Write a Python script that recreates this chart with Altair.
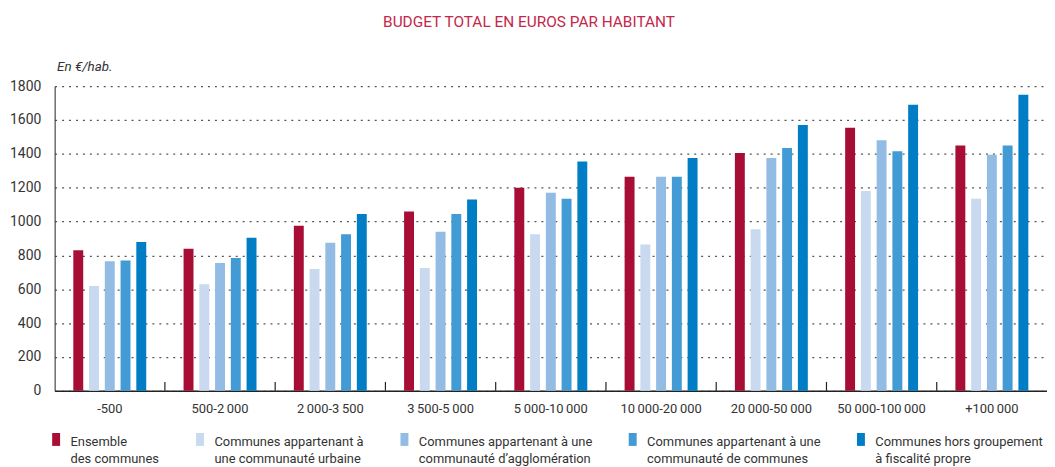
import altair as alt
import pandas as pd

T = "\u2009"
groups = ["-500", f"500-2{T}000", f"2{T}000-3{T}500", f"3{T}500-5{T}000", f"5{T}000-10{T}000",
          f"10{T}000-20{T}000", f"20{T}000-50{T}000", f"50{T}000-100{T}000", f"+100{T}000"]
series = ["Ensemble|des communes",
          "Communes appartenant à|une communauté urbaine",
          "Communes appartenant à une|communauté d’agglomération",
          "Communes appartenant à une|communauté de communes",
          "Communes hors groupement|à fiscalité propre"]
ensemble = [830, 840, 975, 1060, 1200, 1265, 1405, 1555, 1450]
urbaine = [620, 630, 720, 725, 925, 865, 955, 1180, 1135]
agglo = [765, 755, 875, 940, 1170, 1265, 1375, 1480, 1395]
cc = [770, 785, 925, 1045, 1135, 1265, 1435, 1415, 1450]
hors = [880, 905, 1045, 1130, 1355, 1375, 1570, 1690, 1750]
colors = ["#A80D36", "#C9DAF0", "#93BCE5", "#439BD5", "#007DC4"]

rows = []
for s, vals in zip(series, [ensemble, urbaine, agglo, cc, hors]):
    for g, v in zip(groups, vals):
        rows.append({"group": g, "series": s, "value": v})
df = pd.DataFrame(rows)
gdf = pd.DataFrame({"group": groups[1:]})

FONT = "Roboto, sans-serif"

x_scale = alt.Scale(domain=groups, paddingInner=0, paddingOuter=0)

bars = alt.Chart(df).mark_bar(width=10).encode(
    x=alt.X("group:N", scale=x_scale, sort=groups,
            axis=alt.Axis(title=None, labelAngle=0, ticks=False, labelPadding=12,
                          labelFontSize=13, labelColor="#333333", labelFont=FONT,
                          domainColor="#222222", domainWidth=1.5)),
    xOffset=alt.XOffset("series:N", sort=series,
                        scale=alt.Scale(domain=series, paddingInner=0, paddingOuter=1)),
    y=alt.Y("value:Q",
            scale=alt.Scale(domain=[0, 1800], nice=False),
            axis=alt.Axis(values=list(range(0, 1801, 200)), format="d", title="En €/hab.",
                          titleAngle=0, titleAlign="left", titleBaseline="alphabetic",
                          titleX=2, titleY=-16, titleFont=FONT, titleFontSize=13.5,
                          titleFontStyle="italic", titleFontWeight="normal", titleColor="#333333",
                          labelFontSize=14, labelColor="#333333", labelFont=FONT,
                          labelPadding=14, ticks=False, domainColor="#222222", domainWidth=1,
                          grid=True, gridColor="#555555", gridDash=[2, 5], gridWidth=1.2)),
    color=alt.Color("series:N", sort=series,
                    scale=alt.Scale(domain=series, range=colors),
                    legend=alt.Legend(title=None, orient="none", legendX=-5, legendY=346,
                                      direction="horizontal", columns=5, columnPadding=34,
                                      labelExpr="split(datum.label, '|')",
                                      labelFont=FONT, labelFontSize=13, labelColor="#333333",
                                      labelBaseline="top", labelOffset=8, labelLimit=300,
                                      symbolType="M-0.615,-0.46H0.615V1.54H-0.615Z", symbolSize=169,
                                      symbolStrokeWidth=0, symbolOpacity=1)),
)

ticks = alt.Chart(gdf).mark_rule(color="#222222", strokeWidth=1.2).encode(
    x=alt.X("group:N", scale=x_scale, sort=groups, bandPosition=0),
    y=alt.value(307),
    y2=alt.value(298),
)

chart = alt.layer(bars, ticks).properties(
    width=1000, height=307,
    title=alt.TitleParams("BUDGET TOTAL EN EUROS PAR HABITANT", font=FONT, fontSize=15.5,
                          fontWeight="normal", color="#C3284A", anchor="middle",
                          offset=29, dx=-22),
    autosize=alt.AutoSizeParams(type="none"),
    padding={"left": 47, "top": 77, "right": 0, "bottom": 75},
).configure(
    style={"guide-label": {"lineHeight": 17.5}}
).configure_view(stroke=None)

chart.save("out.html", embed_options={"renderer": "svg", "actions": False})
